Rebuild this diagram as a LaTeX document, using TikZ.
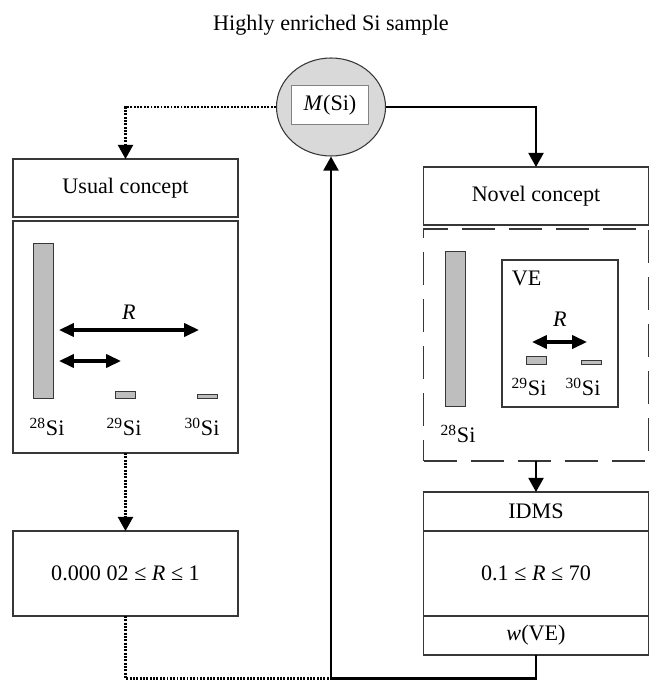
\documentclass[tikz,border=0pt]{standalone}
\definecolor{boxline}{RGB}{55, 55, 55}
\definecolor{samplegray}{RGB}{217, 217, 217}
\definecolor{bargray}{RGB}{190, 190, 190}
\definecolor{framegray}{RGB}{130, 130, 130}
\usepackage{fontspec}
\setmainfont{Liberation Serif}
\usepackage{tikz}
\usetikzlibrary{
    shapes.geometric,
    arrows.meta,
    positioning
}

\begin{document}
\begin{tikzpicture}[font=\fontsize{12.6}{15}\selectfont,
            box/.style={draw=boxline, line width=0.6pt, fill=white, minimum width=4.5cm, inner sep=0pt, outer sep=0pt},
            bar/.style={draw=boxline, fill=bargray, line width=0.5pt, minimum width=0.4cm, inner sep=0pt, anchor=south},
            flow/.style={line width=1.3pt, -{Triangle[width=8.5pt, length=8pt]}},
            dotline/.style={line width=1.4pt, dash pattern=on 1.1pt off 0.8pt},
            dotflow/.style={dotline, -{Triangle[width=8.5pt, length=8pt]}},
            ratio/.style={line width=1.8pt, {Triangle[width=7.5pt, length=8.5pt]}-{Triangle[width=7.5pt, length=8.5pt]}}]

            \useasboundingbox (0,0) rectangle (13,-13.6);

            % Sample
            \node (title) at (6.62,-0.5) {Highly enriched Si sample};
            \node[ellipse, draw=boxline, fill=samplegray, line width=0.6pt, minimum width=2.18cm, minimum height=1.96cm, inner sep=0pt] (sample) at (6.62,-2.14) {};
            \node[draw=framegray, fill=white, line width=0.5pt, minimum width=1.54cm, minimum height=0.78cm, inner sep=0pt] (msi) at (6.6,-2.1) {\textit{M}(Si)};

            % Usual concept
            \node[box, minimum height=1.16cm] (usual) at (2.51,-3.76) {Usual concept};
            \node[box, minimum height=4.64cm] (usualpic) at (2.51,-6.74) {};
            \node[box, minimum height=1.7cm] (usualR) at (2.51,-11.47) {0.000 02 ≤ \textit{R} ≤ 1};

            \node[bar, minimum height=3.1cm] (bar28) at (0.86,-7.98) {};
            \node[bar, minimum height=0.14cm] (bar29) at (2.5,-7.98) {};
            \node[bar, minimum height=0.08cm] (bar30) at (4.14,-7.98) {};
            \node (lab28) at (0.94,-8.54) {\textsuperscript{28}Si};
            \node (lab29) at (2.48,-8.54) {\textsuperscript{29}Si};
            \node (lab30) at (4.04,-8.54) {\textsuperscript{30}Si};
            \node (usualRlab) at (2.58,-6.24) {\textit{R}};
            \coordinate (longL) at (1.18,-6.6);
            \coordinate (longR) at (3.98,-6.6);
            \coordinate (shortL) at (1.18,-7.22);
            \coordinate (shortR) at (2.42,-7.22);
            \draw[ratio] (longL) -- (longR);
            \draw[ratio] (shortL) -- (shortR);

            % Novel concept
            \node[box, minimum height=1.16cm] (novel) at (10.72,-3.92) {Novel concept};
            \node[box, minimum height=4.64cm, dash pattern=on 0.66cm off 0.28cm] (novelpic) at (10.72,-6.9) {};
            \node[box, minimum height=0.78cm] (idms) at (10.72,-10.23) {IDMS};
            \node[box, minimum height=1.7cm, below=0pt of idms] (novelR) {0.1 ≤ \textit{R} ≤ 70};
            \node[box, minimum height=0.78cm, below=0pt of novelR] (wve) {\textit{w}(VE)};

            \node[bar, minimum height=3.1cm] (nbar28) at (9.11,-8.14) {};
            \node (nlab28) at (9.16,-8.68) {\textsuperscript{28}Si};
            \node[draw=boxline, line width=0.6pt, minimum width=2.32cm, minimum height=2.94cm, inner sep=0pt] (ve) at (11.2,-6.67) {};
            \node[anchor=north west, inner sep=0pt] (velab) at ([xshift=0.2cm, yshift=-0.22cm]ve.north west) {VE};
            \node (veRlab) at (11.2,-6.38) {\textit{R}};
            \node[bar, minimum height=0.16cm] (nbar29) at (10.73,-7.3) {};
            \node[bar, minimum height=0.08cm] (nbar30) at (11.82,-7.3) {};
            \node (nlab29) at (10.58,-7.74) {\textsuperscript{29}Si};
            \node (nlab30) at (11.66,-7.74) {\textsuperscript{30}Si};
            \coordinate (veL) at (10.64,-6.84);
            \coordinate (veR) at (11.74,-6.84);
            \draw[ratio] (veL) -- (veR);

            % Connections
            \coordinate (floor) at (0,-13.57);
            \coordinate (base) at (sample.south |- floor);
            \draw[dotflow] (sample.west) -| (usual.north);
            \draw[flow] (sample.east) -| (novel.north);
            \draw[dotflow] (usualpic.south) -- (usualR.north);
            \draw[flow] (novelpic.south) -- (idms.north);
            \draw[dotline] (usualR.south) |- (base);
            \draw[flow] (wve.south) |- (base) -- (sample.south);
        \end{tikzpicture}
\end{document}
